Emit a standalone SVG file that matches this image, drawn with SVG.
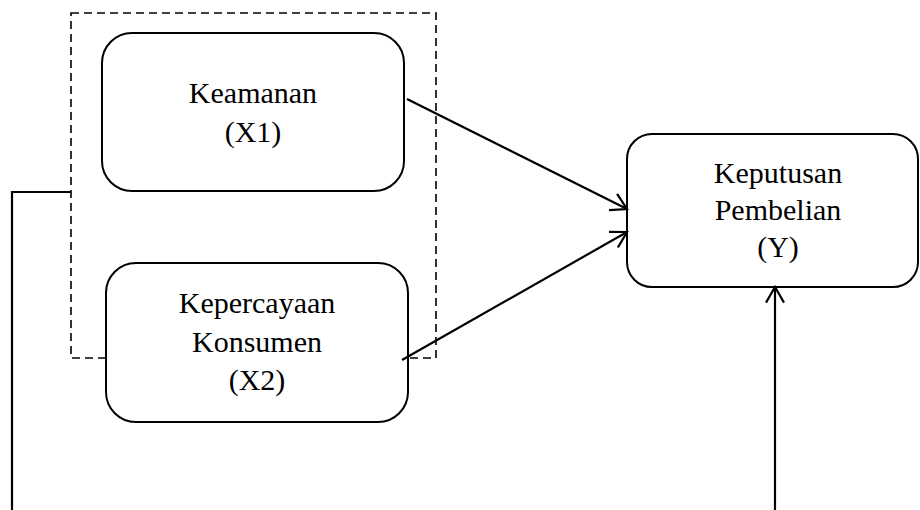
<svg xmlns="http://www.w3.org/2000/svg" width="920" height="510" viewBox="0 0 920 510">
<style>
.box{fill:#fff;stroke:#000;stroke-width:2}
.lbl{font-family:"Liberation Serif","Times New Roman",serif;font-size:30px;fill:#000;text-anchor:middle}
.con{fill:none;stroke:#000;stroke-width:2.2}
.dash{fill:none;stroke:#000;stroke-width:1.6;stroke-dasharray:8 5}
</style>
<defs>
<marker id="ah" markerUnits="userSpaceOnUse" viewBox="-20 -12 22 24" refX="0" refY="0" markerWidth="22" markerHeight="24" orient="auto">
<path d="M-15.6,-9 L0,0 L-15.6,9" fill="none" stroke="#000" stroke-width="2.2"/>
</marker>
</defs>
<rect width="920" height="510" fill="#fff"/>
<rect id="group" class="dash" x="71" y="13" width="365" height="345"/>
<g id="x1">
<rect class="box" x="102" y="33" width="302" height="158" rx="30"/>
<text class="lbl" x="253" y="103">Keamanan</text>
<text class="lbl" x="253" y="142">(X1)</text>
</g>
<g id="x2">
<rect class="box" x="106" y="263" width="302" height="159" rx="30"/>
<text class="lbl" x="257" y="313">Kepercayaan</text>
<text class="lbl" x="257" y="352">Konsumen</text>
<text class="lbl" x="257" y="390">(X2)</text>
</g>
<g id="y">
<rect class="box" x="627" y="134" width="291" height="153" rx="25"/>
<text class="lbl" x="778" y="183">Keputusan</text>
<text class="lbl" x="778" y="220">Pembelian</text>
<text class="lbl" x="778" y="257">(Y)</text>
</g>
<g id="connectors">
<line class="con" x1="407" y1="99" x2="627" y2="209" marker-end="url(#ah)"/>
<line class="con" x1="402" y1="360" x2="627" y2="232" marker-end="url(#ah)"/>
<polyline class="con" points="71,192 12,192 12,510"/>
<line class="con" x1="775" y1="510" x2="775" y2="287" marker-end="url(#ah)"/>
</g>
</svg>
